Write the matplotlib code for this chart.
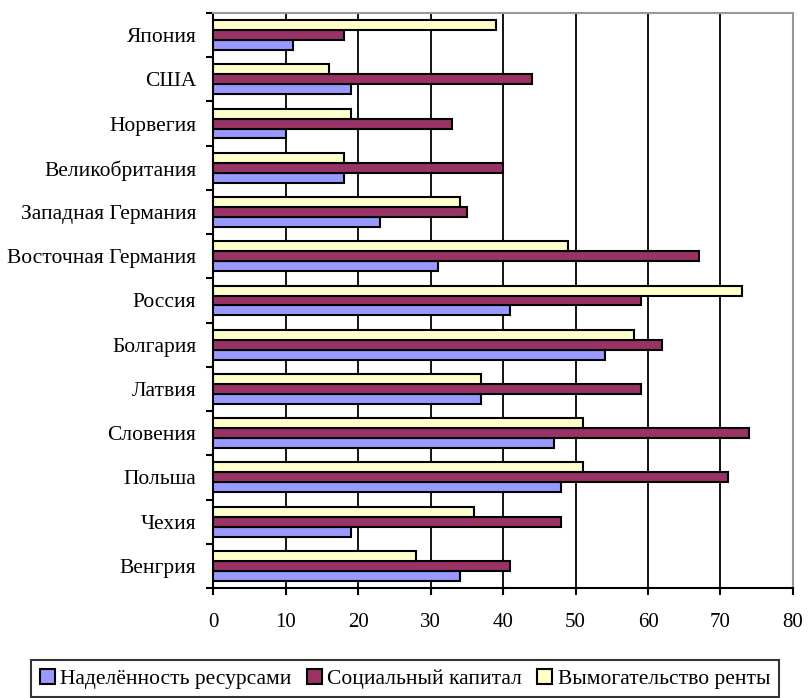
import numpy as np
import matplotlib.pyplot as plt
from matplotlib.patches import Patch

plt.rcParams['font.family'] = ['Liberation Serif', 'DejaVu Serif']

countries = ["Венгрия", "Чехия", "Польша", "Словения", "Латвия", "Болгария",
             "Россия", "Восточная Германия", "Западная Германия",
             "Великобритания", "Норвегия", "США", "Япония"]
resources = [34, 19, 48, 47, 37, 54, 41, 31, 23, 18, 10, 19, 11]
social = [41, 48, 71, 74, 59, 62, 59, 67, 35, 40, 33, 44, 18]
rent = [28, 36, 51, 51, 37, 58, 73, 49, 34, 18, 19, 16, 39]

series_names = ["Наделённость ресурсами", "Социальный капитал", "Вымогательство ренты"]
colors = ["#9999FF", "#993366", "#FFFFCC"]

fig = plt.figure(figsize=(8.1, 6.98), dpi=100)
ax = fig.add_axes([0.263, 0.1576, 0.716, 0.8238])

y = np.arange(len(countries))
h = 0.225
for i, vals in enumerate([resources, social, rent]):
    ax.barh(y + (i - 1) * h, vals, height=h, color=colors[i],
            edgecolor="black", linewidth=1.5, zorder=3)

ax.set_xlim(0, 80)
ax.set_ylim(-0.5, len(countries) - 0.5)
ax.set_xticks(range(0, 81, 10))
ax.tick_params(axis="x", direction="out", length=5, width=1.5, pad=13, labelsize=15)

# category labels in the middle, tick marks between categories
ax.set_yticks(y)
ax.set_yticklabels(countries, fontsize=15.5)
ax.tick_params(axis="y", which="major", length=0, pad=12)
ax.set_yticks(np.arange(-0.5, len(countries), 1), minor=True)
ax.tick_params(axis="y", which="minor", direction="out", length=5, width=1.5)

for xv in range(10, 80, 10):
    ax.axvline(xv, color="black", linewidth=1.3, zorder=1)

ax.spines["left"].set_linewidth(1.5)
ax.spines["bottom"].set_linewidth(1.5)
ax.spines["top"].set_color("#999999")
ax.spines["right"].set_color("#999999")
ax.spines["top"].set_linewidth(1.5)
ax.spines["right"].set_linewidth(1.5)

handles = [Patch(facecolor=c, edgecolor="black", linewidth=1.5) for c in colors]
leg = fig.legend(handles, series_names, loc="upper center", bbox_to_anchor=(0.5, 0.0545),
                 ncol=3, fontsize=15.5, frameon=True, fancybox=False,
                 handlelength=0.7, handleheight=0.7, handletextpad=0.25,
                 columnspacing=0.7, borderpad=0.4, borderaxespad=0)
leg.get_frame().set_edgecolor("black")
leg.get_frame().set_linewidth(1.5)

fig.savefig("out.png", dpi=100)
